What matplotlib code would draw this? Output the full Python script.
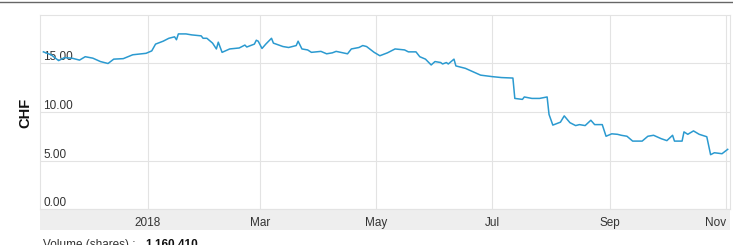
import numpy as np
import pandas as pd
import matplotlib
matplotlib.use("Agg")
import matplotlib.pyplot as plt
import matplotlib.dates as mdates
from matplotlib.patches import Rectangle
from matplotlib.lines import Line2D

plt.rcParams['font.family'] = ['Liberation Sans', 'DejaVu Sans']

# Daily closing price, CHF
dates = [
    "2017-11-07", "2017-11-11", "2017-11-15", "2017-11-18", "2017-11-22", "2017-11-26",
    "2017-11-29", "2017-12-03", "2017-12-07", "2017-12-11", "2017-12-14", "2017-12-19",
    "2017-12-24", "2017-12-31", "2018-01-03", "2018-01-05", "2018-01-09", "2018-01-12",
    "2018-01-15", "2018-01-16", "2018-01-17", "2018-01-21", "2018-01-24", "2018-01-29",
    "2018-01-30", "2018-02-01", "2018-02-04", "2018-02-06", "2018-02-07", "2018-02-09",
    "2018-02-13", "2018-02-18", "2018-02-21", "2018-02-22", "2018-02-26", "2018-02-27",
    "2018-02-28", "2018-03-02", "2018-03-04", "2018-03-07", "2018-03-08", "2018-03-13",
    "2018-03-16", "2018-03-20", "2018-03-21", "2018-03-23", "2018-03-26", "2018-03-28",
    "2018-04-02", "2018-04-05", "2018-04-08", "2018-04-10", "2018-04-16", "2018-04-18",
    "2018-04-22", "2018-04-24", "2018-04-26", "2018-04-30", "2018-05-03", "2018-05-07",
    "2018-05-11", "2018-05-16", "2018-05-18", "2018-05-22", "2018-05-24", "2018-05-27",
    "2018-05-30", "2018-06-01", "2018-06-04", "2018-06-05", "2018-06-07", "2018-06-08",
    "2018-06-11", "2018-06-12", "2018-06-17", "2018-06-21", "2018-06-25", "2018-07-01",
    "2018-07-06", "2018-07-12", "2018-07-13", "2018-07-17", "2018-07-18", "2018-07-22",
    "2018-07-26", "2018-07-30", "2018-07-31", "2018-08-02", "2018-08-06", "2018-08-08",
    "2018-08-11", "2018-08-14", "2018-08-16", "2018-08-19", "2018-08-22", "2018-08-24",
    "2018-08-28", "2018-08-30", "2018-09-02", "2018-09-05", "2018-09-07", "2018-09-10",
    "2018-09-13", "2018-09-18", "2018-09-21", "2018-09-24", "2018-09-28", "2018-10-01",
    "2018-10-04", "2018-10-05", "2018-10-09", "2018-10-10", "2018-10-12", "2018-10-15",
    "2018-10-18", "2018-10-22", "2018-10-24", "2018-10-26", "2018-10-30", "2018-11-02",
]
prices = [
    16.2, 15.9, 15.3, 15.6, 15.55, 15.35,
    15.7, 15.55, 15.2, 15.0, 15.45, 15.5,
    15.9, 16.05, 16.3, 17.0, 17.3, 17.6,
    17.75, 17.45, 18.05, 18.05, 17.95, 17.85,
    17.6, 17.6, 17.1, 16.5, 17.2, 16.15,
    16.5, 16.6, 16.9, 16.7, 17.0, 17.4,
    17.3, 16.55, 17.0, 17.6, 17.1, 16.75,
    16.65, 16.85, 17.3, 16.5, 16.4, 16.15,
    16.25, 16.0, 16.1, 16.25, 16.0, 16.5,
    16.65, 16.85, 16.75, 16.15, 15.8, 16.1,
    16.5, 16.4, 16.2, 16.2, 15.7, 15.45,
    14.85, 15.2, 15.1, 14.95, 15.1, 14.95,
    15.45, 14.75, 14.5, 14.15, 13.8, 13.65,
    13.55, 13.5, 11.4, 11.3, 11.55, 11.4,
    11.4, 11.55, 9.75, 8.65, 8.95, 9.6,
    8.9, 8.6, 8.7, 8.6, 9.15, 8.7,
    8.7, 7.5, 7.75, 7.7, 7.6, 7.5,
    7.0, 7.0, 7.5, 7.6, 7.25, 7.05,
    7.6, 7.0, 7.0, 7.95, 7.7, 8.05,
    7.7, 7.45, 5.6, 5.8, 5.7, 6.15,
]
y_ticks = [0, 5, 10, 15]
volume_text = "1,160,410"

x = pd.to_datetime(dates)
x_start = pd.Timestamp("2017-11-05 05:00")
x_end = pd.Timestamp("2018-11-03 05:00")

W, H = 733, 245
fig = plt.figure(figsize=(W / 100, H / 100), dpi=100)

# plot box in pixels: x 40..730, y 15..209
ax = fig.add_axes([40 / W, 1 - 209 / H, 690 / W, 194 / H])

# grey band under the plot where the month labels sit
fig.patches.append(Rectangle((40 / W, 1 - 230 / H), 690 / W, 21 / H,
                             transform=fig.transFigure, facecolor="#eeeeee",
                             edgecolor="none", zorder=-5))
# thin rule across the very top
fig.add_artist(Line2D([0, 1], [1 - 2.5 / H, 1 - 2.5 / H], transform=fig.transFigure,
                      color="#666666", lw=1.0))

ax.plot(x, prices, color="#2b9ad0", lw=1.1, zorder=3)

ax.set_ylim(0, 20)
ax.set_xlim(x_start, x_end)

ax.set_yticks(y_ticks)
ax.set_yticklabels([f"{v:.2f}" for v in y_ticks])
ax.tick_params(axis="y", length=0, pad=-2.5, labelsize=8.5, labelcolor="#333333")
for lab in ax.get_yticklabels():
    lab.set_horizontalalignment("left")
    lab.set_verticalalignment("bottom")

# month ticks; January shows the year
month_ticks = pd.date_range("2018-01-01", "2018-11-01", freq="2MS")
month_labels = [d.strftime("%Y") if d.month == 1 else d.strftime("%b") for d in month_ticks]
ax.set_xticks(month_ticks)
ax.set_xticklabels(month_labels)
ax.tick_params(axis="x", length=0, pad=5.8, labelsize=8.5, labelcolor="#333333")
# last label is pushed left so it stays inside the band
ax.get_xticklabels()[-1].set_horizontalalignment("right")
ax.get_xticklabels()[-1].set_x(mdates.date2num(x_end))

ax.grid(True, color="#e3e3e3", lw=0.8)
ax.set_axisbelow(True)
for s in ax.spines.values():
    s.set_color("#e3e3e3")
    s.set_linewidth(0.8)

fig.text(25 / W, 1 - 113 / H, "CHF", rotation=90, fontsize=10.5, fontweight="bold",
         ha="center", va="center", color="#111111")

fig.text(43 / W, 1 - 239 / H, "Volume (shares) :  ", fontsize=8.5, color="#333333",
         ha="left", va="top")
fig.text(145 / W, 1 - 239 / H, volume_text, fontsize=8.5, fontweight="bold",
         color="#111111", ha="left", va="top")

fig.savefig("out.png", dpi=100)
